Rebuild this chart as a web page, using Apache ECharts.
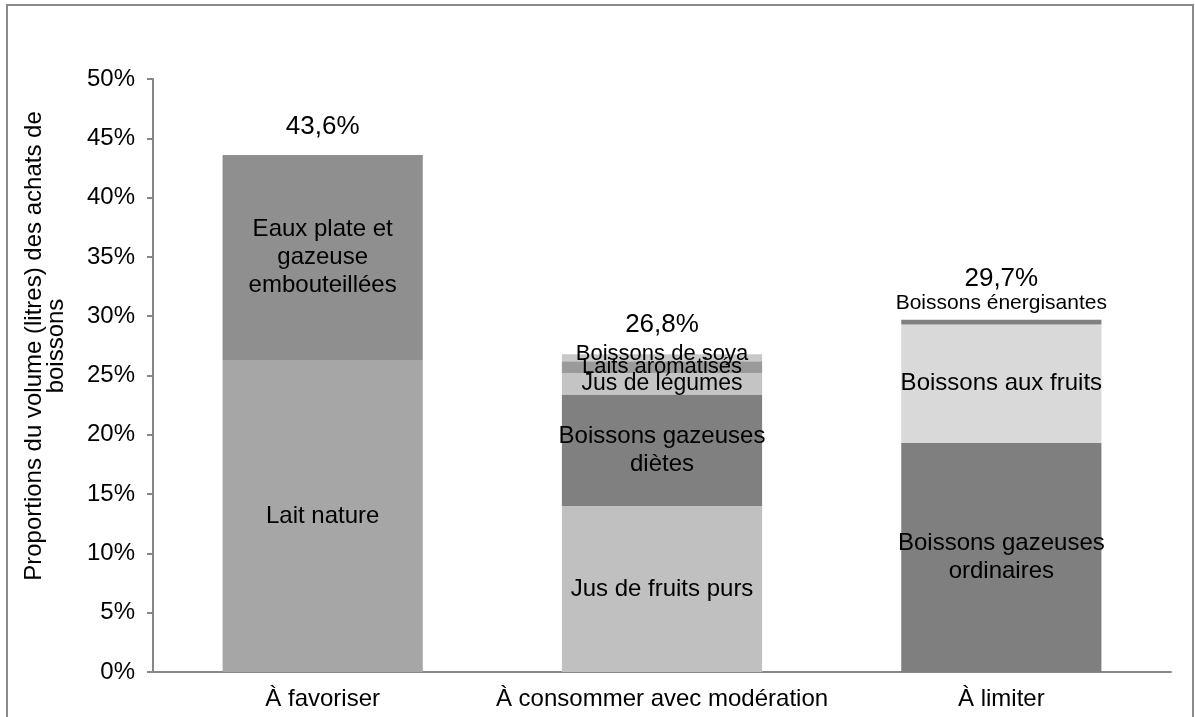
<!DOCTYPE html>
<html>
<head>
<meta charset="utf-8">
<script src="https://cdn.jsdelivr.net/npm/echarts@6/dist/echarts.min.js"></script>
<style>
  html, body { margin: 0; padding: 0; background: #fff; }
  #chart { width: 1195px; height: 717px; }
</style>
</head>
<body>
<div id="chart"></div>
<script>
  // categories (x axis)
  var categories = ['À favoriser', 'À consommer avec modération', 'À limiter'];

  // segments, bottom to top, in % of volume
  var laitNature = [26.3, '-', '-'];
  var eauxEmbouteillees = [17.3, '-', '-'];
  var jusFruitsPurs = ['-', 14.0, '-'];
  var gazeusesDietes = ['-', 9.4, '-'];
  var jusLegumes = ['-', 1.8, '-'];
  var laitsAromatises = ['-', 1.0, '-'];
  var boissonsSoya = ['-', 0.6, '-'];
  var gazeusesOrdinaires = ['-', '-', 19.3];
  var boissonsFruits = ['-', '-', 10.0];
  var energisantes = ['-', '-', 0.4];

  var totals = [43.6, 26.8, 29.7];
  var totalLabels = ['43,6%', '26,8%', '29,7%'];

  var font = 'Liberation Sans, Arial, Helvetica, sans-serif';
  var chart = echarts.init(document.getElementById('chart'));

  function seg(name, data, color, label) {
    return {
      name: name,
      type: 'bar',
      stack: 'vol',
      barWidth: '59%',
      data: data,
      itemStyle: { color: color },
      label: Object.assign({
        show: true,
        position: 'inside',
        formatter: name,
        color: '#000',
        fontFamily: font,
        fontSize: 24,
        lineHeight: 28
      }, label || {})
    };
  }

  chart.setOption({
    animation: false,
    graphic: [{
      type: 'rect',
      shape: { x: 7, y: 5, width: 1186, height: 730 },
      style: { fill: 'none', stroke: '#8a8a8a', lineWidth: 2 }
    }, {
      type: 'text',
      x: 45,
      y: 346,
      rotation: Math.PI / 2,
      style: {
        text: 'Proportions du volume (litres) des achats de\nboissons',
        align: 'center',
        verticalAlign: 'middle',
        fill: '#000',
        fontFamily: font,
        fontSize: 24,
        lineHeight: 22
      }
    }],
    grid: { left: 153, top: 79, right: 24, bottom: 45 },
    xAxis: {
      type: 'category',
      data: categories,
      axisLine: { lineStyle: { color: '#868686', width: 2 } },
      axisTick: { show: false },
      axisLabel: { interval: 0, color: '#000', fontFamily: font, fontSize: 24, margin: 15 }
    },
    yAxis: {
      type: 'value',
      min: 0,
      max: 50,
      interval: 5,
      splitLine: { show: false },
      axisLine: { show: true, lineStyle: { color: '#868686', width: 2 } },
      axisTick: { show: true, length: 6, lineStyle: { color: '#868686', width: 2 } },
      axisLabel: { color: '#000', fontFamily: font, fontSize: 24, margin: 18, formatter: '{value}%' }
    },
    series: [
      seg('Lait nature', laitNature, '#a6a6a6'),
      seg('Eaux plate et\ngazeuse\nembouteillées', eauxEmbouteillees, '#8f8f8f'),
      seg('Jus de fruits purs', jusFruitsPurs, '#c0c0c0'),
      seg('Boissons gazeuses\ndiètes', gazeusesDietes, '#808080'),
      seg('Jus de légumes', jusLegumes, '#c4c4c4', { fontSize: 23 }),
      seg('Laits aromatisés', laitsAromatises, '#9a9a9a', { fontSize: 22 }),
      seg('Boissons de soya', boissonsSoya, '#c8c8c8', { offset: [0, -4], fontSize: 22 }),
      seg('Boissons gazeuses\nordinaires', gazeusesOrdinaires, '#7f7f7f'),
      seg('Boissons aux fruits', boissonsFruits, '#d9d9d9'),
      seg('Boissons énergisantes', energisantes, '#808080', { position: 'top', distance: 3, fontSize: 21 }),
      {
        name: 'Total',
        type: 'bar',
        barWidth: '59%',
        barGap: '-100%',
        z: 1,
        silent: true,
        itemStyle: { color: 'rgba(0,0,0,0)' },
        data: totals.map(function (v, i) {
          return { value: v, label: { distance: [15, 16, 28][i] } };
        }),
        label: {
          show: true,
          position: 'top',
          color: '#000',
          fontFamily: font,
          fontSize: 26,
          formatter: function (p) { return totalLabels[p.dataIndex]; }
        }
      }
    ]
  });
</script>
</body>
</html>
